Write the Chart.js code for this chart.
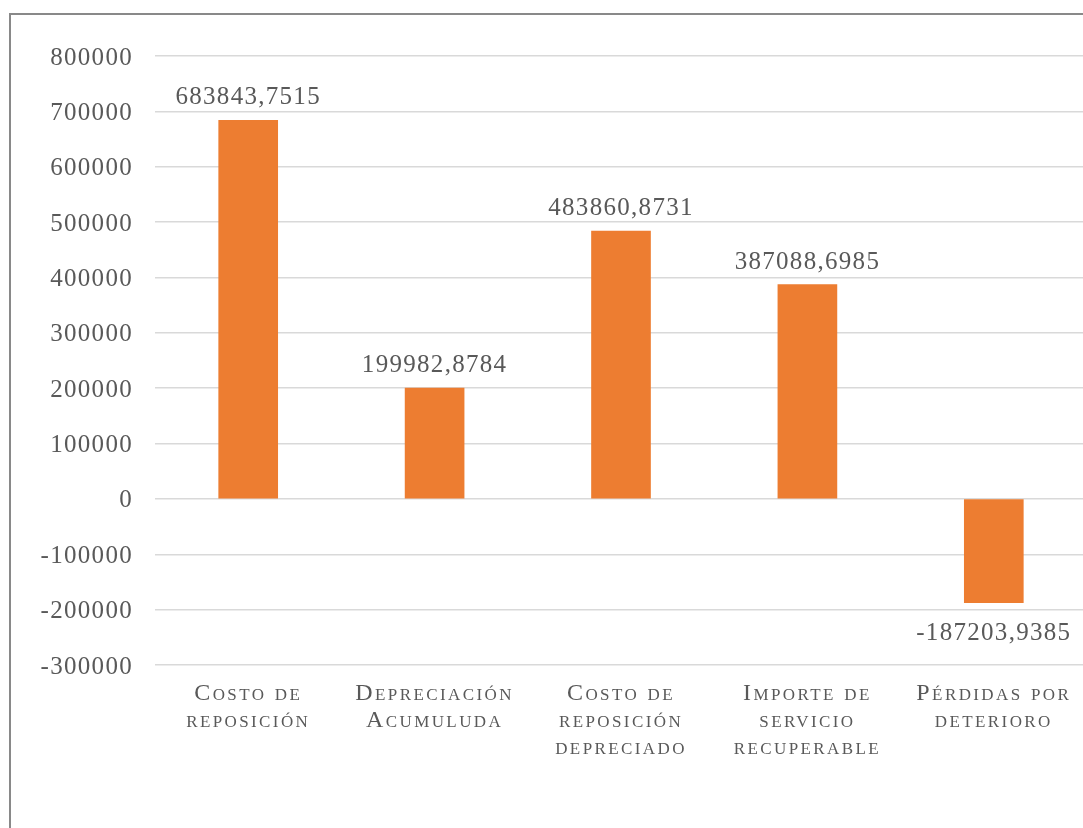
<!DOCTYPE html>
<html>
<head>
<meta charset="utf-8">
<script src="https://cdn.jsdelivr.net/npm/chart.js@4"></script>
<style>
    body { margin: 0; background: #fff; overflow: hidden; }
    #frame {
        position: absolute; left: 9px; top: 13px;
        width: 1200px; height: 900px;
        border: 2px solid #898989;
    }
    #chart { position: absolute; left: 0; top: 0; }
</style>
</head>
<body>
<div id="frame"></div>
<canvas id="chart" width="1100" height="828"></canvas>
<script>
const categories = [
    ['Costo de', 'reposición'],
    ['Depreciación', 'Acumuluda'],
    ['Costo de', 'reposición', 'depreciado'],
    ['Importe de', 'servicio', 'recuperable'],
    ['Pérdidas por', 'deterioro']
];
const values = [683843.7515, 199982.8784, 483860.8731, 387088.6985, -187203.9385];
const yTicks = [-300000, -200000, -100000, 0, 100000, 200000, 300000, 400000, 500000, 600000, 700000, 800000];

const textColor = '#595959';
const serif = '"Liberation Serif", serif';

// comma as decimal separator, like the source
function fmt(v) {
    return v.toFixed(4).replace('.', ',');
}

// Chart.js refuses 'small-caps' as a font style, so patch the ctx font setter
// and switch it on only while the x axis labels are drawn
const fontDesc = Object.getOwnPropertyDescriptor(CanvasRenderingContext2D.prototype, 'font');

const smallCaps = {
    id: 'smallCaps',
    beforeInit(chart) {
        const ctx = chart.ctx;
        Object.defineProperty(ctx, 'font', {
            get() { return fontDesc.get.call(this); },
            set(v) {
                fontDesc.set.call(this, this._caps ? 'small-caps ' + v : v);
            }
        });
    },
    afterLayout(chart) {
        const x = chart.scales.x;
        if (x._capsPatched) return;
        const orig = x.drawLabels;
        x.drawLabels = function (area) {
            const ctx = chart.ctx;
            ctx._caps = true;
            ctx.letterSpacing = '2.4px';
            orig.call(this, area);
            ctx._caps = false;
            ctx.letterSpacing = '1.3px';
        };
        x._capsPatched = true;
    },
    beforeDraw(chart) {
        chart.ctx.letterSpacing = '1.3px';
    }
};

const valueLabels = {
    id: 'valueLabels',
    afterDatasetsDraw(chart) {
        const ctx = chart.ctx;
        const meta = chart.getDatasetMeta(0);
        ctx.save();
        ctx.font = '25px ' + serif;
        ctx.fillStyle = textColor;
        ctx.textAlign = 'center';
        meta.data.forEach((bar, i) => {
            const v = values[i];
            if (v >= 0) {
                ctx.textBaseline = 'bottom';
                ctx.fillText(fmt(v), bar.x, bar.y - 10);
            } else {
                ctx.textBaseline = 'top';
                ctx.fillText(fmt(v), bar.x, bar.y + 18);
            }
        });
        ctx.restore();
    }
};

new Chart(document.getElementById('chart'), {
    type: 'bar',
    data: {
        labels: categories,
        datasets: [{
            data: values,
            backgroundColor: '#ED7D31',
            barThickness: 59
        }]
    },
    options: {
        responsive: false,
        animation: false,
        layout: { padding: { top: 56, right: 13, left: 0, bottom: 0 } },
        plugins: {
            legend: { display: false },
            tooltip: { enabled: false }
        },
        scales: {
            x: {
                grid: { display: false },
                border: { display: false },
                ticks: {
                    color: textColor,
                    padding: 7,
                    maxRotation: 0,
                    autoSkip: false,
                    font: { family: serif, size: 24, lineHeight: 27 / 24 }
                },
                afterFit(scale) { scale.height = 163; }
            },
            y: {
                min: -300000,
                max: 800000,
                afterBuildTicks(scale) {
                    scale.ticks = yTicks.map(v => ({ value: v }));
                },
                grid: { color: '#d9d9d9', lineWidth: 1.5, drawTicks: false },
                border: { display: false },
                ticks: {
                    color: textColor,
                    padding: 22,
                    labelOffset: 2,
                    font: { family: serif, size: 25 },
                    callback: v => String(v)
                },
                afterFit(scale) { scale.width = 155; }
            }
        }
    },
    plugins: [smallCaps, valueLabels]
});
</script>
</body>
</html>
